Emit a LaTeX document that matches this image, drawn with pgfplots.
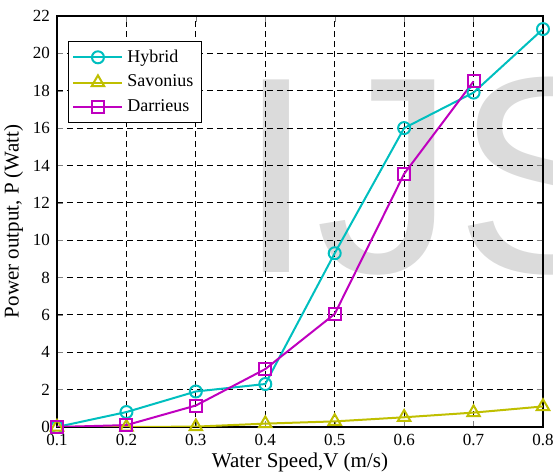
\documentclass[border=0pt]{standalone}
\usepackage{pgfplots}
\pgfplotsset{compat=1.18}
\usepackage{fontspec}
\setmainfont{Liberation Serif}
\newfontfamily\wmfont{Liberation Sans}
\definecolor{cHyb}{rgb}{0,0.75,0.75}
\definecolor{cSav}{rgb}{0.75,0.75,0}
\definecolor{cDar}{rgb}{0.75,0,0.75}

\begin{document}
\begin{tikzpicture}
% page frame: 553x475 px at 0.5pt per px, axis box at origin
\path[use as bounding box] (-28.5pt,-24pt) rectangle (248pt,213.5pt);
% watermark behind the chart
\node[overlay, anchor=base west, inner sep=0pt, text=black!14, font={\wmfont\fontsize{140}{140}\selectfont}]
  at (90pt,77pt) {IJS};
\begin{axis}[
	scale only axis,
	width=243pt, height=205.5pt,
	xmin=0.1, xmax=0.8, ymin=0, ymax=22,
	xtick={0.1,0.2,0.3,0.4,0.5,0.6,0.7,0.8},
	ytick={0,2,...,22},
	tick align=inside,
	major tick length=3pt,
	axis line style={line width=0.6pt},
	grid=major,
	major grid style={black, dash pattern=on 3pt off 2pt, line width=0.5pt},
	/pgf/number format/assume math mode=true,
	xticklabel style={/pgf/number format/fixed, /pgf/number format/precision=1, /pgf/number format/fixed zerofill},
	tick label style={font=\fontsize{8.5}{9}\selectfont},
	label style={font=\fontsize{10.5}{12}\selectfont},
	xlabel={Water Speed,V (m/s)},
	ylabel={Power output, P (Watt)},
	xlabel style={yshift=3pt},
	ylabel style={yshift=-2pt},
	legend style={at={(0.0226,0.939)}, anchor=north west, draw=black, line width=0.5pt,
		font=\fontsize{9}{11}\selectfont, row sep=1pt, inner sep=2pt},
	legend cell align=left,
	legend image code/.code={\draw[mark repeat=2,mark phase=2] plot coordinates {(0cm,0cm) (0.43cm,0cm) (0.86cm,0cm)};},
	every axis plot/.append style={line width=1pt},
]
\addplot[cHyb, mark=o, mark size=3pt] coordinates {
	(0.1,0) (0.2,0.8) (0.3,1.9) (0.4,2.3) (0.5,9.3) (0.6,16.0) (0.7,17.9) (0.8,21.3)};
\addplot[cSav, mark=triangle, mark size=3.6pt] coordinates {
	(0.1,0) (0.2,0) (0.3,0.02) (0.4,0.18) (0.5,0.3) (0.6,0.52) (0.7,0.77) (0.8,1.1)};
\addplot[cDar, mark=square, mark size=3pt] coordinates {
	(0.1,0) (0.2,0.1) (0.3,1.15) (0.4,3.1) (0.5,6.05) (0.6,13.55) (0.7,18.5)};
\legend{Hybrid,Savonius,Darrieus}
\end{axis}
\end{tikzpicture}
\end{document}
